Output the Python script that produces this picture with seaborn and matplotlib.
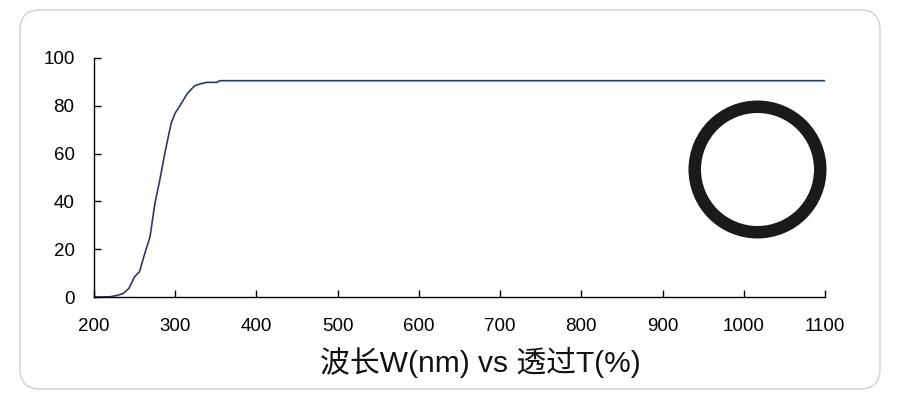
import numpy as np
import matplotlib
matplotlib.use("Agg")
import matplotlib.pyplot as plt
import seaborn as sns
import pandas as pd
from matplotlib.patches import FancyBboxPatch, Circle

# wavelength (nm) vs transmittance (%)
wavelength = [200, 210, 220, 230, 236, 243, 250, 256, 262, 269, 275, 281, 288,
              295, 300, 305, 315, 324, 332, 339, 351, 355, 400, 500, 600, 700,
              800, 900, 1000, 1100]
transmit = [0.0, 0.0, 0.1, 0.8, 1.5, 3.6, 8.5, 10.6, 17.6, 25.2, 39.2, 49.0, 61.5,
            72.7, 77.0, 79.6, 85.2, 88.4, 89.3, 89.8, 89.8, 90.5, 90.5, 90.5, 90.5,
            90.5, 90.5, 90.5, 90.5, 90.5]
xticks = [200, 300, 400, 500, 600, 700, 800, 900, 1000, 1100]
yticks = [0, 20, 40, 60, 80, 100]
xlabel = "波长W(nm) vs 透过T(%)"

df = pd.DataFrame({"W": wavelength, "T": transmit})

sns.set_style("white")
plt.rcParams["font.family"] = ["Liberation Sans", "Noto Sans CJK SC", "DejaVu Sans"]
plt.rcParams["xtick.direction"] = "in"
plt.rcParams["ytick.direction"] = "in"
plt.rcParams["xtick.bottom"] = True
plt.rcParams["ytick.left"] = True

fig = plt.figure(figsize=(9, 4), dpi=100)

# rounded card border
bg = fig.add_axes([0, 0, 1, 1])
bg.set_xlim(0, 900)
bg.set_ylim(400, 0)
bg.axis("off")
bg.add_patch(FancyBboxPatch((20, 10), 860, 379, boxstyle="round,pad=0,rounding_size=20",
                            facecolor="white", edgecolor="#cfcfcf", linewidth=1.0))

ax = fig.add_axes([94 / 900, 1 - 297 / 400, (825 - 94) / 900, (297 - 58) / 400])
ax.patch.set_alpha(0)
sns.lineplot(data=df, x="W", y="T", ax=ax, color="#2b3a67", linewidth=1.2)

ax.set_xlim(200, 1100)
ax.set_ylim(0, 100)
ax.set_xticks(xticks)
ax.set_yticks(yticks)
ax.tick_params(direction="in", length=5, width=1, color="black", labelsize=13.5,
               labelcolor="black", bottom=True, left=True)
ax.tick_params(axis="y", pad=14)
ax.tick_params(axis="x", pad=15)
for lab in ax.get_xticklabels() + ax.get_yticklabels():
    lab.set_family("Liberation Sans")
for s in ["top", "right"]:
    ax.spines[s].set_visible(False)
for s in ["left", "bottom"]:
    ax.spines[s].set_color("black")
    ax.spines[s].set_linewidth(1)
ax.set_ylabel("")
ax.set_xlabel(xlabel, fontsize=21.5, color="#111111",
              family=["Liberation Sans", "Noto Sans CJK SC", "DejaVu Sans"])
ax.xaxis.set_label_coords((480 - 94) / 731, (297 - 347) / 239)

# ring picture on the right
ring = fig.add_axes([687 / 900, 1 - 240 / 400, 141 / 900, 141 / 400])
ring.set_xlim(-1, 1)
ring.set_ylim(-1, 1)
ring.set_aspect("equal")
ring.axis("off")
ring.add_patch(Circle((0, 0), 0.89, facecolor="none", edgecolor="#1a1a1a", linewidth=9.0))

fig.savefig("out.png", dpi=100)
